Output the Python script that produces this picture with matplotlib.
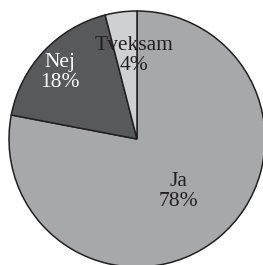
import matplotlib.pyplot as plt

labels = ["Ja", "Nej", "Tveksam"]
shares = [78, 18, 4]

colors = ["#a7a8aa", "#58595b", "#cfd0d2"]
text_colors = ["#231f20", "#ffffff", "#231f20"]
# label anchor positions (data coords, pie radius = 1)
label_xy = [(0.32, -0.41), (-0.60, 0.52), (-0.02, 0.65)]

fig = plt.figure(figsize=(2.63, 2.65), dpi=100)
ax = fig.add_axes([0, 0, 1, 1])
ax.pie(shares, colors=colors, startangle=90, counterclock=False,
       wedgeprops=dict(edgecolor="#231f20", linewidth=1.1))
ax.set_xlim(-137 / 128, 126 / 128)
ax.set_ylim(-126 / 128, 139 / 128)
ax.set_aspect("equal")
ax.axis("off")

for lab, val, (x, y), tc in zip(labels, shares, label_xy, text_colors):
    ax.text(x, y, f"{lab}\n{val}%", ha="center", va="center", color=tc,
            family="Liberation Serif", fontsize=15.5, linespacing=1.05)

fig.savefig("out.png", dpi=100)
